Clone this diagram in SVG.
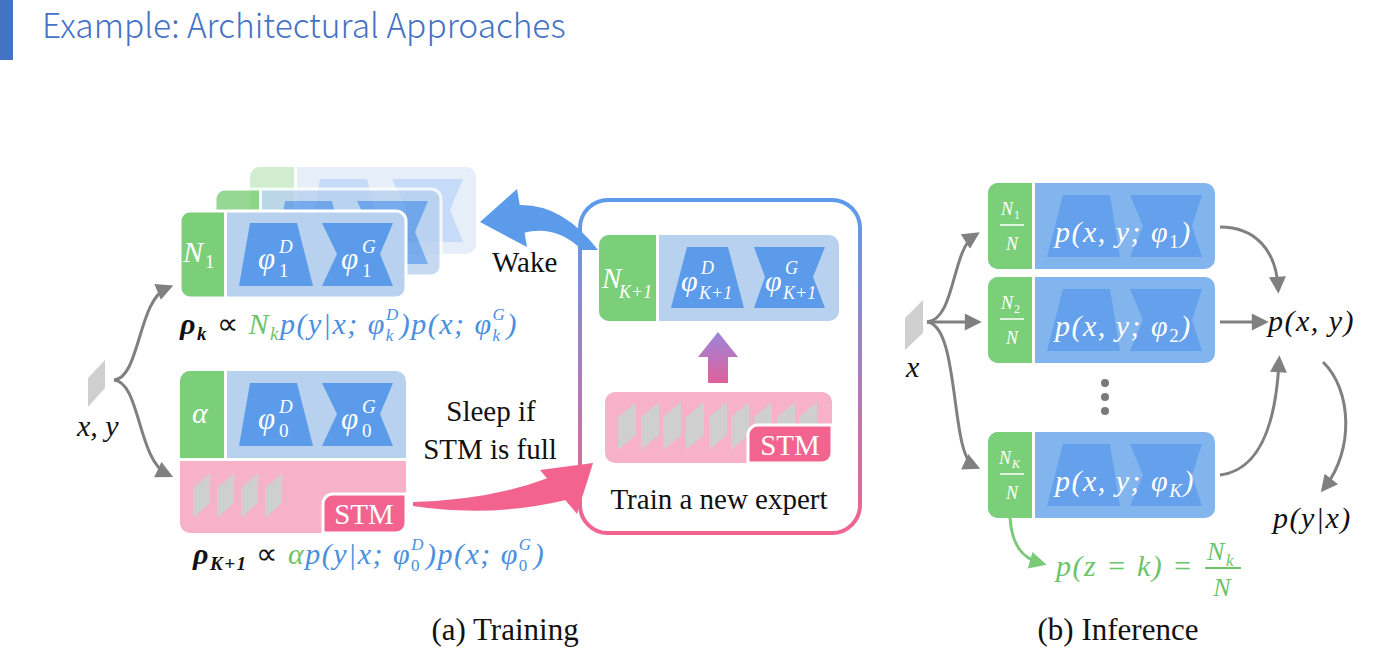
<svg xmlns="http://www.w3.org/2000/svg" width="1398" height="653" viewBox="0 0 1398 653">
<defs>
<style>
.ser{fill:#111;}
.m{font-style:italic;}
.ls{letter-spacing:1.5px;}
.conn{fill:none;stroke:#808080;stroke-width:3;marker-end:url(#ah);}
.gconn{fill:none;stroke:#7ACB78;stroke-width:3;marker-end:url(#ahg);}
.cb{fill:#B7D1EE;}
.tz{fill:#5B9BE9;}
.gr{fill:#7CCF79;}
.ib{fill:#82B5EE;}
.itz{fill:#64A0EB;}
.pk{fill:#F7B1C8;}
.stm{fill:#F2648F;stroke:#fff;stroke-width:3;}
.sh{fill:#CFCFCF;}
.wt{fill:#fff;}
.sep{stroke:#fff;stroke-width:3;}
.out{fill:none;stroke:#fff;stroke-width:3;}
.blk{fill:#111;}
.blu{fill:#4A8FE0;}
.grn{fill:#6CC46A;}
</style>
<marker id="ah" viewBox="0 0 10 10" refX="6" refY="5" markerWidth="18" markerHeight="17" markerUnits="userSpaceOnUse" orient="auto"><path d="M0,0 L10,5 L0,10 Z" fill="#808080"/></marker>
<marker id="ahg" viewBox="0 0 10 10" refX="6" refY="5" markerWidth="18" markerHeight="17" markerUnits="userSpaceOnUse" orient="auto"><path d="M0,0 L10,5 L0,10 Z" fill="#7ACB78"/></marker>
<linearGradient id="boxg" gradientUnits="userSpaceOnUse" x1="0" y1="200" x2="0" y2="533"><stop offset="0" stop-color="#5B9BEA"/><stop offset="1" stop-color="#F2648F"/></linearGradient>
<linearGradient id="upg" gradientUnits="userSpaceOnUse" x1="0" y1="332" x2="0" y2="383"><stop offset="0" stop-color="#9A85DA"/><stop offset="1" stop-color="#E0619C"/></linearGradient>
</defs>

<g id="title">
<rect x="0" y="0" width="13" height="60" fill="#4472C4"/>
<text x="42" y="38" font-family="Noto Sans CJK SC, Noto Sans, sans-serif" font-weight="300" font-size="33.5" fill="#4472C4">Example: Architectural Approaches</text>
</g>

<g font-family="Liberation Serif, Times New Roman, serif">
<!-- Training: stacked experts -->
<g id="expert-back" opacity="0.35">
<rect x="250" y="167" width="226" height="87" rx="10" class="cb"/>
<path d="M294,167 H260 A10,10 0 0 0 250,177 V244 A10,10 0 0 0 260,254 H294 Z" class="gr"/>
<line x1="295.5" y1="167" x2="295.5" y2="254" class="sep"/>
<polygon points="320,179 367,179 383,242 309,242" class="tz"/>
<polygon points="392,179 463,179 450,210 463,242 392,242 407,210" class="tz"/>
</g>
<g id="expert-middle" opacity="0.8">
<rect x="215" y="189" width="226" height="87" rx="10" class="cb"/>
<path d="M259,189 H225 A10,10 0 0 0 215,199 V266 A10,10 0 0 0 225,276 H259 Z" class="gr"/>
<line x1="260.5" y1="189" x2="260.5" y2="276" class="sep"/>
<polygon points="285,201 332,201 348,264 274,264" class="tz"/>
<polygon points="357,201 428,201 415,232 428,264 357,264 372,232" class="tz"/>
<rect x="215" y="189" width="226" height="87" rx="10" class="out"/>
</g>
<g id="expert-1">
<rect x="180" y="211" width="226" height="87" rx="10" class="cb"/>
<path d="M224,211 H190 A10,10 0 0 0 180,221 V288 A10,10 0 0 0 190,298 H224 Z" class="gr"/>
<line x1="225.5" y1="211" x2="225.5" y2="298" class="sep"/>
<polygon points="250,223 297,223 313,286 239,286" class="tz"/>
<polygon points="322,223 393,223 380,254 393,286 322,286 337,254" class="tz"/>
<rect x="180" y="211" width="226" height="87" rx="10" class="out"/>
<text class="m wt" x="183" y="262" font-size="30">N</text>
<text class="wt" x="205" y="268" font-size="19">1</text>
<text class="m wt" x="258" y="269" font-size="31">φ</text>
<text class="m wt" x="279" y="253" font-size="19">D</text>
<text class="wt" x="279" y="277" font-size="19">1</text>
<text class="m wt" x="341" y="269" font-size="31">φ</text>
<text class="m wt" x="362" y="253" font-size="19">G</text>
<text class="wt" x="362" y="277" font-size="19">1</text>
</g>

<g id="formula-k">
<text class="m ls" x="180" y="334" font-size="30"><tspan class="blk" font-weight="bold">ρ</tspan><tspan class="blk" font-weight="bold" font-size="19" dy="6">k</tspan><tspan class="blk" font-style="normal" dy="-6"> ∝ </tspan><tspan class="grn">N</tspan><tspan class="grn" font-size="19" dy="6">k</tspan><tspan class="blu" dy="-6">p(y|x; φ</tspan><tspan class="blu" font-size="17" dy="-14">D</tspan><tspan class="blu" font-size="17" dx="-14" dy="21">k</tspan><tspan class="blu" dx="5" dy="-7">)p(x; φ</tspan><tspan class="blu" font-size="17" dy="-14">G</tspan><tspan class="blu" font-size="17" dx="-14" dy="21">k</tspan><tspan class="blu" dx="5" dy="-7">)</tspan></text>
</g>

<!-- Training: prior expert + STM -->
<g id="expert-0">
<path d="M180,459 H406 V523 A10,10 0 0 1 396,533 H190 A10,10 0 0 1 180,523 Z" class="pk"/>
<path d="M180,381 A10,10 0 0 1 190,371 H396 A10,10 0 0 1 406,381 V458 H180 Z" class="cb"/>
<path d="M224,371 H190 A10,10 0 0 0 180,381 V458 H224 Z" class="gr"/>
<line x1="225.5" y1="371" x2="225.5" y2="458" class="sep"/>
<line x1="180" y1="459.5" x2="406" y2="459.5" class="sep"/>
<polygon points="250,383 297,383 313,446 239,446" class="tz"/>
<polygon points="322,383 393,383 380,414 393,446 322,446 337,414" class="tz"/>
<text class="m wt" x="192" y="423" font-size="30">α</text>
<text class="m wt" x="258" y="429" font-size="31">φ</text>
<text class="m wt" x="279" y="413" font-size="19">D</text>
<text class="wt" x="279" y="437" font-size="19">0</text>
<text class="m wt" x="341" y="429" font-size="31">φ</text>
<text class="m wt" x="362" y="413" font-size="19">G</text>
<text class="wt" x="362" y="437" font-size="19">0</text>
<polygon points="193,488 210,473 210,503 193,518" class="sh"/>
<polygon points="217,488 234,473 234,503 217,518" class="sh"/>
<polygon points="241,488 258,473 258,503 241,518" class="sh"/>
<polygon points="265,488 282,473 282,503 265,518" class="sh"/>
<path d="M333,494 H406 V523 A10,10 0 0 1 396,533 H323 V504 A10,10 0 0 1 333,494 Z" class="stm"/>
<text x="364" y="524" font-size="29" text-anchor="middle" fill="#fff">STM</text>
</g>

<g id="formula-k1">
<text class="m ls" x="193" y="564" font-size="30"><tspan class="blk" font-weight="bold">ρ</tspan><tspan class="blk" font-weight="bold" font-size="19" dy="6">K+1</tspan><tspan class="blk" font-style="normal" dy="-6"> ∝ </tspan><tspan class="grn">α</tspan><tspan class="blu">p(y|x; φ</tspan><tspan class="blu" font-size="17" dy="-14">D</tspan><tspan class="blu" font-size="17" font-style="normal" dx="-14" dy="21">0</tspan><tspan class="blu" dx="5" dy="-7">)p(x; φ</tspan><tspan class="blu" font-size="17" dy="-14">G</tspan><tspan class="blu" font-size="17" font-style="normal" dx="-14" dy="21">0</tspan><tspan class="blu" dx="5" dy="-7">)</tspan></text>
</g>

<g id="input-xy">
<polygon points="88,378 105,360 105,388 88,407" fill="#CFCFCF"/>
<text class="m blk" x="77" y="436" font-size="30">x, y</text>
</g>

<!-- Training: new expert box -->
<g id="new-expert-box">
<rect x="580" y="200" width="280" height="333" rx="28" fill="none" stroke="url(#boxg)" stroke-width="4"/>
<rect x="599" y="235" width="240" height="86" rx="10" class="cb"/>
<path d="M656,235 H609 A10,10 0 0 0 599,245 V311 A10,10 0 0 0 609,321 H656 Z" class="gr"/>
<line x1="657.5" y1="235" x2="657.5" y2="321" class="sep"/>
<polygon points="687,247 728,247 744,308 671,308" class="tz"/>
<polygon points="754,247 825,247 813,277 825,308 754,308 765,277" class="tz"/>
<text class="m wt" x="602" y="288" font-size="29">N</text>
<text class="m wt" x="619" y="298" font-size="18">K+1</text>
<text class="m wt" x="681" y="291" font-size="30">φ</text>
<text class="m wt" x="701" y="274" font-size="18">D</text>
<text class="m wt" x="699" y="299" font-size="18">K+1</text>
<text class="m wt" x="765" y="291" font-size="30">φ</text>
<text class="m wt" x="785" y="274" font-size="18">G</text>
<text class="m wt" x="783" y="299" font-size="18">K+1</text>
<polygon points="718,332 738,357 728,357 728,383 708,383 708,357 698,357" fill="url(#upg)"/>
<rect x="605" y="392" width="227" height="71" rx="10" class="pk"/>
<polygon points="618,417 636,402 636,435 618,450" class="sh"/>
<polygon points="641,417 659,402 659,435 641,450" class="sh"/>
<polygon points="663,417 681,402 681,435 663,450" class="sh"/>
<polygon points="686,417 704,402 704,435 686,450" class="sh"/>
<polygon points="709,417 727,402 727,435 709,450" class="sh"/>
<polygon points="731,417 749,402 749,435 731,450" class="sh"/>
<polygon points="754,417 772,402 772,435 754,450" class="sh"/>
<polygon points="777,417 795,402 795,435 777,450" class="sh"/>
<polygon points="799,417 817,402 817,435 799,450" class="sh"/>
<path d="M758,425 H832 V453 A10,10 0 0 1 822,463 H748 V435 A10,10 0 0 1 758,425 Z" class="stm"/>
<text x="790" y="455" font-size="29" text-anchor="middle" fill="#fff">STM</text>
<text class="ser" x="719" y="509" font-size="29" text-anchor="middle">Train a new expert</text>
</g>

<g id="labels-training">
<text class="ser" x="492" y="272" font-size="29">Wake</text>
<text class="ser" x="491" y="421" font-size="29" text-anchor="middle">Sleep if</text>
<text class="ser" x="490" y="459" font-size="29" text-anchor="middle">STM is full</text>
<text class="ser" x="505" y="640" font-size="31" text-anchor="middle">(a) Training</text>
</g>

<!-- Inference -->
<g id="inf-expert-1">
<rect x="988" y="183" width="227" height="86" rx="10" class="ib"/>
<path d="M1032,183 H998 A10,10 0 0 0 988,193 V259 A10,10 0 0 0 998,269 H1032 Z" class="gr"/>
<line x1="1033.5" y1="183" x2="1033.5" y2="269" class="sep"/>
<polygon points="1063,195 1110,195 1120,257 1047,257" class="itz"/>
<polygon points="1130,195 1202,195 1192,226 1202,257 1130,257 1143,226" class="itz"/>
<text class="m wt" x="1001" y="215" font-size="18">N</text><text class="wt" x="1014" y="219" font-size="12">1</text>
<line x1="1000" y1="225" x2="1024" y2="225" stroke="#fff" stroke-width="1.5"/>
<text class="m wt" x="1012" y="250" font-size="18" text-anchor="middle">N</text>
<text class="m wt ls" x="1055" y="242" font-size="30">p(x, y; φ<tspan font-size="19" font-style="normal" dy="6">1</tspan><tspan dy="-6">)</tspan></text>
</g>
<g id="inf-expert-2">
<rect x="988" y="277" width="227" height="86" rx="10" class="ib"/>
<path d="M1032,277 H998 A10,10 0 0 0 988,287 V353 A10,10 0 0 0 998,363 H1032 Z" class="gr"/>
<line x1="1033.5" y1="277" x2="1033.5" y2="363" class="sep"/>
<polygon points="1063,289 1110,289 1120,351 1047,351" class="itz"/>
<polygon points="1130,289 1202,289 1192,320 1202,351 1130,351 1143,320" class="itz"/>
<text class="m wt" x="1001" y="309" font-size="18">N</text><text class="wt" x="1014" y="313" font-size="12">2</text>
<line x1="1000" y1="319" x2="1024" y2="319" stroke="#fff" stroke-width="1.5"/>
<text class="m wt" x="1012" y="344" font-size="18" text-anchor="middle">N</text>
<text class="m wt ls" x="1055" y="336" font-size="30">p(x, y; φ<tspan font-size="19" font-style="normal" dy="6">2</tspan><tspan dy="-6">)</tspan></text>
</g>
<g id="inf-dots" fill="#7A7A7A">
<circle cx="1105" cy="383" r="4"/><circle cx="1105" cy="397" r="4"/><circle cx="1105" cy="411" r="4"/>
</g>
<g id="inf-expert-K">
<rect x="988" y="432" width="227" height="86" rx="10" class="ib"/>
<path d="M1032,432 H998 A10,10 0 0 0 988,442 V508 A10,10 0 0 0 998,518 H1032 Z" class="gr"/>
<line x1="1033.5" y1="432" x2="1033.5" y2="518" class="sep"/>
<polygon points="1063,444 1110,444 1120,506 1047,506" class="itz"/>
<polygon points="1130,444 1202,444 1192,475 1202,506 1130,506 1143,475" class="itz"/>
<text class="m wt" x="999" y="464" font-size="18">N</text><text class="m wt" x="1012" y="468" font-size="12">K</text>
<line x1="1000" y1="474" x2="1024" y2="474" stroke="#fff" stroke-width="1.5"/>
<text class="m wt" x="1012" y="499" font-size="18" text-anchor="middle">N</text>
<text class="m wt ls" x="1055" y="491" font-size="30">p(x, y; φ<tspan font-size="19" dy="6">K</tspan><tspan dy="-6">)</tspan></text>
</g>

<g id="input-x">
<polygon points="905,318 923,300 923,333 905,350" fill="#CFCFCF"/>
<text class="m blk" x="906" y="377" font-size="30">x</text>
</g>

<g id="labels-inference">
<text class="m blk ls" x="1268" y="331" font-size="30">p(x, y)</text>
<text class="m blk ls" x="1273" y="528" font-size="30">p(y|x)</text>
<text class="m grn ls" x="1056" y="576" font-size="30">p(z = k) =</text>
<text class="m grn" x="1207" y="560" font-size="26">N</text><text class="m grn" x="1226" y="566" font-size="17">k</text>
<line x1="1205" y1="568" x2="1241" y2="568" stroke="#6CC46A" stroke-width="2"/>
<text class="m grn" x="1222" y="596" font-size="26" text-anchor="middle">N</text>
<text class="ser" x="1118" y="640" font-size="31" text-anchor="middle">(b) Inference</text>
</g>
</g>

<g id="connectors">
<path class="conn" d="M114,380 C140,378 138,300 167,288"/>
<path class="conn" d="M114,380 C140,382 138,460 167,474"/>
<path class="conn" d="M927,322 C955,320 952,250 974,236"/>
<path class="conn" d="M927,322 L975,322"/>
<path class="conn" d="M927,322 C960,325 950,455 974,466"/>
<path class="conn" d="M1220,227 C1255,227 1276,250 1278,287"/>
<path class="conn" d="M1220,322 L1262,322"/>
<path class="conn" d="M1220,475 C1262,470 1276,420 1279,362"/>
<path class="conn" d="M1323,362 C1352,390 1354,450 1325,487"/>
<path class="gconn" d="M1010,518 C1012,545 1022,558 1040,563"/>
<g id="wake-arrow" fill="#5B9BEA">
<path d="M518,205 Q562,203 598,250 L582,250 Q556,224 523,233 Z"/>
<polygon points="480,222 517,189 527,247"/>
</g>
<g id="sleep-arrow" fill="#F2648F">
<path d="M413,502 Q490,500 548,478 L566,500 Q490,518 413,506 Z"/>
<polygon points="593,463 540,470 577,514"/>
</g>
</g>
</svg>
